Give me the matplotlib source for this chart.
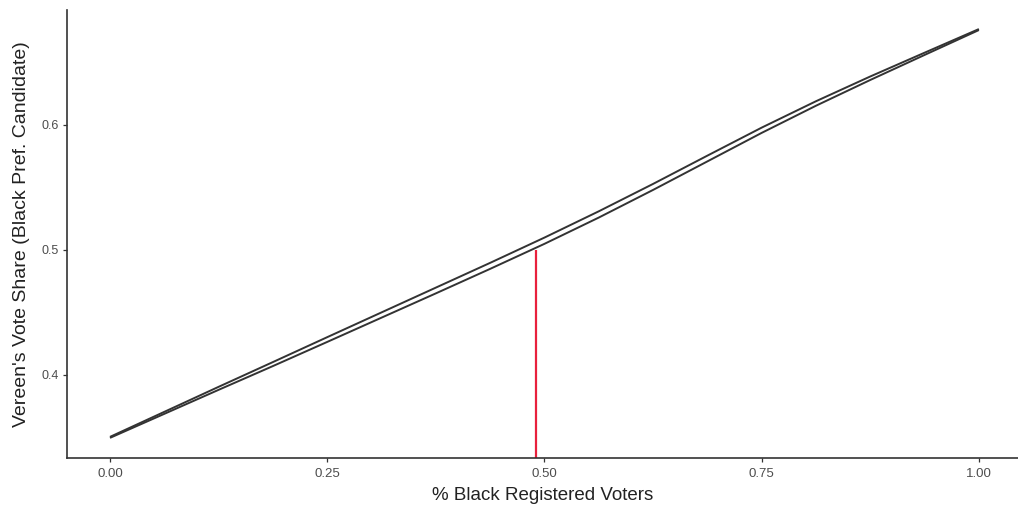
import matplotlib
matplotlib.use("Agg")
import matplotlib.pyplot as plt

plt.rcParams['font.family'] = ['Liberation Sans', 'DejaVu Sans']

# Share of Black registered voters and the bounds of Vereen's predicted vote share
pct_black = [0.0, 0.0625, 0.125, 0.1875, 0.25, 0.3125, 0.375, 0.4375, 0.5,
             0.5625, 0.625, 0.6875, 0.75, 0.8125, 0.875, 0.9375, 1.0]
upper = [0.3504, 0.3704, 0.3904, 0.4102, 0.4301, 0.4499, 0.4697, 0.4895, 0.5097,
         0.5307, 0.5526, 0.5752, 0.5976, 0.6187, 0.6385, 0.6575, 0.6764]
lower = [0.3496, 0.3688, 0.3880, 0.4070, 0.4263, 0.4457, 0.4651, 0.4847, 0.5047,
         0.5257, 0.5478, 0.5706, 0.5934, 0.6151, 0.6357, 0.6557, 0.6756]

# Point where the predicted share reaches one half
cutoff_x = 0.49
cutoff_y = 0.50

x_ticks = [0.00, 0.25, 0.50, 0.75, 1.00]
x_tick_labels = ["0.00", "0.25", "0.50", "0.75", "1.00"]
y_ticks = [0.4, 0.5, 0.6]
y_tick_labels = ["0.4", "0.5", "0.6"]

fig = plt.figure(figsize=(10.18, 5.08), dpi=100)
ax = fig.add_axes([0.0658, 0.0984, 0.9342, 0.8816])

y_bottom = 0.3335
ax.set_xlim(-0.0495, 1.045)
ax.set_ylim(y_bottom, 0.6915)

ax.plot(pct_black, upper, color="#333333", lw=1.4, solid_capstyle="butt")
ax.plot(pct_black, lower, color="#333333", lw=1.4, solid_capstyle="butt")
ax.vlines(cutoff_x, y_bottom, cutoff_y, color="#e8203c", lw=1.6)

ax.set_xticks(x_ticks)
ax.set_xticklabels(x_tick_labels)
ax.set_yticks(y_ticks)
ax.set_yticklabels(y_tick_labels)

for side in ("top", "right"):
    ax.spines[side].set_visible(False)
for side in ("left", "bottom"):
    ax.spines[side].set_color("#333333")
    ax.spines[side].set_linewidth(1.2)

ax.tick_params(axis="both", length=3, width=0.9, color="#333333",
               labelcolor="#4d4d4d")
ax.tick_params(axis="x", labelsize=9.5, pad=4)
ax.tick_params(axis="y", labelsize=9, pad=3)

ax.set_xlabel("% Black Registered Voters", fontsize=13.5, color="#222222", labelpad=5)
ax.set_ylabel("Vereen's Vote Share (Black Pref. Candidate)", fontsize=14,
              color="#222222", labelpad=8)

fig.savefig("out.png", dpi=100, facecolor="white")
